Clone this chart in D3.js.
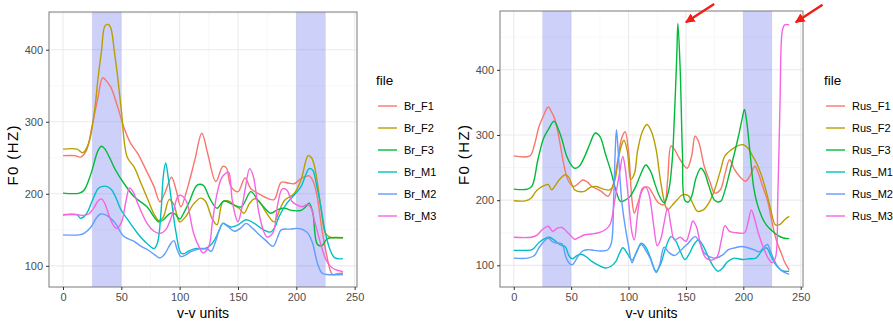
<!DOCTYPE html>
<html>
<head>
<meta charset="utf-8">
<script src="https://cdn.jsdelivr.net/npm/d3@7"></script>
<style>
  body { margin: 0; background: #fff; }
  svg { display: block; font-family: "Liberation Sans", Arial, sans-serif; }
</style>
</head>
<body>
<svg id="chart" width="893" height="325"></svg>
<script>
// series names (legend order)
const brNames = ["Br_F1", "Br_F2", "Br_F3", "Br_M1", "Br_M2", "Br_M3"];
const rusNames = ["Rus_F1", "Rus_F2", "Rus_F3", "Rus_M1", "Rus_M2", "Rus_M3"];

// [v-v unit, F0 Hz]
const brF1 = [[0,253],[10,253],[15,251],[20,260],[25,295],[30,334],[34,361],[38,355],[41,348],[47,320],[52,293],[58,270],[64,256],[70,237],[78,210],[83,189],[87,200],[93,223],[97,205],[101,182],[107,210],[113,247],[119,284],[124,256],[131,217],[137,238],[140,236],[144,210],[150,203],[156,222],[161,207],[168,200],[175,194],[181,192],[187,216],[193,215],[198,214],[204,221],[211,225],[215,215],[218,195],[222,150],[226,115],[229,94],[231,88],[235,89],[240,90]];
const brF2 = [[0,262],[12,262],[17,257],[22,270],[27,315],[30,360],[33,398],[36,433],[39,435],[41,430],[44,398],[47,360],[50,316],[55,251],[61,237],[67,214],[73,191],[78,172],[82,163],[86,168],[91,192],[95,185],[100,161],[105,168],[112,186],[118,194],[122,190],[128,165],[132,157],[137,189],[142,190],[147,184],[151,180],[155,173],[160,187],[164,193],[168,190],[173,177],[181,161],[185,175],[190,191],[198,200],[204,219],[208,245],[210,253],[213,250],[216,235],[221,182],[225,145],[229,140],[240,139]];
const brF3 = [[0,201],[14,201],[18,205],[24,228],[30,260],[33,266],[36,262],[40,250],[45,233],[52,215],[61,196],[72,182],[78,168],[82,161],[86,164],[92,173],[96,172],[100,165],[104,175],[108,188],[115,212],[120,212],[126,193],[132,180],[138,190],[147,184],[153,182],[161,203],[167,191],[173,180],[178,173],[184,178],[190,180],[196,177],[204,177],[208,182],[211,187],[214,175],[218,130],[222,128],[226,137],[230,139],[240,139]];
const brM1 = [[0,171],[12,171],[15,166],[20,172],[25,190],[30,207],[33,210],[38,210],[42,205],[46,192],[50,177],[56,163],[64,145],[72,131],[78,124],[81,132],[84,175],[86,225],[88,243],[90,225],[93,190],[97,145],[101,118],[104,117],[107,120],[113,124],[121,124],[126,128],[130,136],[134,150],[137,159],[141,156],[144,154],[150,157],[157,164],[164,159],[172,150],[178,147],[182,155],[185,168],[192,187],[198,198],[204,210],[208,226],[211,235],[214,233],[217,215],[220,191],[225,145],[229,122],[233,111],[240,110]];
const brM2 = [[0,143],[14,143],[18,145],[24,154],[28,165],[32,172],[36,171],[40,167],[45,159],[52,141],[61,134],[66,128],[73,122],[79,115],[83,111],[87,116],[92,130],[95,135],[98,122],[101,113],[105,115],[110,120],[118,124],[124,123],[127,120],[131,135],[134,150],[137,159],[141,155],[147,148],[152,152],[157,159],[162,153],[167,145],[174,135],[180,127],[184,140],[187,150],[195,151],[201,152],[206,150],[210,145],[214,131],[218,104],[222,90],[226,88],[240,88]];
const brM3 = [[0,171],[13,171],[17,170],[22,172],[27,182],[30,190],[33,193],[36,186],[39,172],[43,157],[46,152],[50,160],[54,190],[57,208],[60,203],[64,187],[72,159],[78,148],[83,145],[88,150],[94,173],[98,195],[100,198],[103,196],[106,189],[112,145],[117,125],[120,118],[125,127],[128,160],[132,200],[136,222],[140,229],[142,230],[145,192],[148,168],[150,161],[153,178],[156,205],[160,235],[163,225],[168,173],[172,148],[175,140],[180,146],[184,185],[188,207],[192,205],[196,190],[200,185],[205,182],[209,185],[212,182],[216,160],[221,130],[225,110],[229,100],[233,95],[240,92]];

const rusF1 = [[0,268],[14,268],[18,285],[22,313],[26,330],[30,343],[33,335],[36,323],[40,290],[43,260],[47,232],[52,221],[56,225],[60,231],[64,228],[68,221],[76,214],[82,206],[86,220],[90,255],[94,295],[97,305],[100,275],[103,200],[105,180],[108,195],[113,218],[117,220],[121,210],[126,196],[131,193],[134,230],[137,283],[140,278],[145,262],[151,249],[155,268],[158,298],[161,290],[166,252],[171,228],[175,211],[180,216],[184,240],[188,262],[192,248],[197,236],[202,229],[206,238],[210,252],[213,242],[217,220],[221,200],[224,175],[227,150],[230,132],[233,119],[236,105],[240,93]];
const rusF2 = [[0,199],[10,199],[15,203],[20,215],[25,221],[30,224],[33,216],[36,222],[40,232],[45,239],[48,235],[53,216],[58,213],[62,214],[67,220],[72,221],[78,217],[84,216],[88,230],[91,262],[94,285],[96,292],[99,275],[102,232],[105,240],[108,277],[112,305],[116,316],[120,305],[124,278],[128,228],[132,192],[134,185],[138,192],[142,200],[147,208],[152,207],[156,195],[160,183],[165,185],[170,196],[175,216],[180,245],[184,268],[190,278],[196,284],[200,285],[204,280],[208,268],[212,255],[216,237],[220,213],[224,185],[228,162],[232,163],[236,170],[240,175]];
const rusF3 = [[0,217],[12,217],[16,222],[21,262],[26,295],[30,308],[35,321],[39,308],[42,293],[46,268],[49,257],[53,249],[57,252],[62,268],[66,285],[71,303],[75,298],[80,270],[85,242],[89,215],[93,198],[97,200],[101,205],[106,220],[110,237],[115,254],[119,245],[123,225],[127,206],[131,196],[135,215],[138,260],[140,330],[142,420],[143,471],[145,400],[147,270],[149,200],[152,197],[155,206],[159,235],[163,249],[166,243],[170,222],[175,200],[180,198],[184,215],[188,242],[192,270],[196,300],[199,325],[201,339],[203,320],[206,270],[209,220],[212,195],[216,175],[220,162],[225,153],[230,146],[235,142],[240,141]];
const rusM1 = [[0,123],[10,123],[16,124],[22,135],[27,141],[31,143],[35,139],[40,132],[45,128],[48,115],[51,110],[55,115],[59,117],[64,112],[68,106],[74,100],[80,96],[85,99],[89,106],[92,118],[95,127],[99,118],[103,108],[107,120],[111,134],[115,128],[119,112],[124,91],[128,102],[132,125],[137,144],[141,138],[145,122],[149,109],[153,118],[157,132],[161,139],[165,130],[169,115],[174,98],[178,91],[182,96],[186,105],[192,111],[199,109],[205,110],[211,111],[216,122],[220,127],[224,115],[227,104],[232,94],[236,91],[240,91]];
const rusM2 = [[0,111],[12,111],[18,115],[22,127],[27,138],[30,142],[34,136],[38,134],[42,133],[45,115],[48,104],[51,101],[56,114],[60,122],[64,124],[70,123],[76,122],[82,124],[85,134],[87,200],[88.5,280],[89.5,308],[91,275],[94,200],[97,160],[100,130],[103,104],[106,117],[111,132],[115,123],[119,110],[124,89],[127,100],[131,128],[135,120],[140,115],[146,124],[152,134],[158,144],[162,135],[166,119],[171,113],[176,111],[182,116],[187,124],[193,127],[198,129],[204,127],[209,124],[214,121],[218,128],[221,132],[224,120],[228,104],[233,92],[240,86]];
const rusM3 = [[0,143],[15,143],[20,146],[25,155],[30,160],[34,152],[38,157],[42,158],[46,152],[50,145],[53,140],[57,143],[62,147],[68,148],[74,150],[80,155],[84,163],[88,200],[92,240],[95,267],[97,250],[100,200],[103,150],[105,139],[108,180],[112,218],[115,220],[118,208],[122,160],[125,130],[128,140],[131,165],[134,188],[137,160],[140,139],[145,143],[150,137],[153,150],[156,168],[159,160],[163,130],[167,112],[172,108],[177,113],[181,140],[184,161],[188,152],[194,150],[201,150],[204,165],[207,185],[210,170],[213,150],[218,125],[222,110],[225,104],[228,112],[230,200],[232,350],[234,460],[236,469],[240,469]];

// shaded v-v intervals
const bands = [[25, 50], [200, 225]];
// axis breaks
const xTicks = [0, 50, 100, 150, 200, 250];
const yTicks = [100, 200, 300, 400];
const xMinor = [25, 75, 125, 175, 225];
const yMinor = [150, 250, 350, 450];
// annotation arrows on the Russian panel: [fromX, fromY, toX, toY] in data units
const rusArrows = [[174.6, 501, 150, 473], [269, 500, 245.7, 473]];

const colors = ["#F8766D", "#B79F00", "#00BA38", "#00BFC4", "#619CFF", "#F564E3"];

const svg = d3.select("#chart");

svg.append("defs").append("marker")
  .attr("id", "head")
  .attr("viewBox", "0 0 10 10")
  .attr("refX", 9).attr("refY", 5)
  .attr("markerWidth", 4).attr("markerHeight", 4)
  .attr("orient", "auto")
  .append("path")
  .attr("d", "M0,0L10,5L0,10Z")
  .attr("fill", "#f01e14");

function drawPanel(box, series, names, legendX, arrows) {
  const all = series.flat();
  const xs = all.map(d => d[0]).concat(bands.flat());
  const ys = all.map(d => d[1]);
  const xe = d3.extent(xs), ye = d3.extent(ys);
  const xp = (xe[1] - xe[0]) * 0.05, yp = (ye[1] - ye[0]) * 0.05;

  const x = d3.scaleLinear().domain([xe[0] - xp, xe[1] + xp]).range([box.left, box.right]);
  const y = d3.scaleLinear().domain([ye[0] - yp, ye[1] + yp]).range([box.bottom, box.top]);

  const g = svg.append("g");

  g.append("rect")
    .attr("x", box.left).attr("y", box.top)
    .attr("width", box.right - box.left).attr("height", box.bottom - box.top)
    .attr("fill", "#fff");

  // grid
  g.selectAll(".vminor").data(xMinor).enter().append("line")
    .attr("x1", d => x(d)).attr("x2", d => x(d))
    .attr("y1", box.top).attr("y2", box.bottom)
    .attr("stroke", "#f3f3f3").attr("stroke-width", 0.6);
  g.selectAll(".hminor").data(yMinor).enter().append("line")
    .attr("y1", d => y(d)).attr("y2", d => y(d))
    .attr("x1", box.left).attr("x2", box.right)
    .attr("stroke", "#f3f3f3").attr("stroke-width", 0.6);
  g.selectAll(".vmajor").data(xTicks).enter().append("line")
    .attr("x1", d => x(d)).attr("x2", d => x(d))
    .attr("y1", box.top).attr("y2", box.bottom)
    .attr("stroke", "#ebebeb").attr("stroke-width", 1.1);
  g.selectAll(".hmajor").data(yTicks).enter().append("line")
    .attr("y1", d => y(d)).attr("y2", d => y(d))
    .attr("x1", box.left).attr("x2", box.right)
    .attr("stroke", "#ebebeb").attr("stroke-width", 1.1);

  // shaded bands
  g.selectAll(".band").data(bands).enter().append("rect")
    .attr("x", d => x(d[0])).attr("width", d => x(d[1]) - x(d[0]))
    .attr("y", box.top).attr("height", box.bottom - box.top)
    .attr("fill", "#2832e6").attr("fill-opacity", 0.23);

  const line = d3.line()
    .x(d => x(d[0])).y(d => y(d[1]))
    .curve(d3.curveCatmullRom.alpha(0.5));

  g.selectAll(".series").data(series).enter().append("path")
    .attr("d", d => line(d))
    .attr("fill", "none")
    .attr("stroke", (d, i) => colors[i])
    .attr("stroke-width", 1.4);

  g.append("rect")
    .attr("x", box.left).attr("y", box.top)
    .attr("width", box.right - box.left).attr("height", box.bottom - box.top)
    .attr("fill", "none").attr("stroke", "#7a7a7a").attr("stroke-width", 1);

  // axes
  const xa = g.append("g").attr("transform", `translate(0,${box.bottom})`)
    .call(d3.axisBottom(x).tickValues(xTicks).tickSize(3).tickPadding(3));
  const ya = g.append("g").attr("transform", `translate(${box.left},0)`)
    .call(d3.axisLeft(y).tickValues(yTicks).tickSize(3).tickPadding(3));
  [xa, ya].forEach(a => {
    a.select(".domain").remove();
    a.selectAll("line").attr("stroke", "#333");
    a.selectAll("text").attr("fill", "#4d4d4d").style("font-size", "11px")
      .style("font-family", "'Liberation Sans', Arial, sans-serif");
  });

  g.append("text")
    .attr("x", (box.left + box.right) / 2).attr("y", 318)
    .attr("text-anchor", "middle").style("font-size", "14px").attr("fill", "#000")
    .text("v-v units");
  g.append("text")
    .attr("transform", `translate(${box.left - 31},${(box.top + box.bottom) / 2 + 6}) rotate(-90)`)
    .attr("text-anchor", "middle").style("font-size", "15px").attr("fill", "#000")
    .attr("textLength", 60).attr("lengthAdjust", "spacing")
    .text("F0 (HZ)");

  // legend
  const lg = g.append("g");
  lg.append("text").attr("x", legendX - 2).attr("y", 85)
    .style("font-size", "13.5px").attr("fill", "#000").text("file");
  const rows = lg.selectAll(".row").data(names).enter().append("g")
    .attr("transform", (d, i) => `translate(${legendX},${106 + i * 22})`);
  rows.append("line").attr("x1", 0).attr("x2", 19)
    .attr("stroke", (d, i) => colors[i]).attr("stroke-width", 1.4);
  rows.append("text").attr("x", 26).attr("dy", "0.35em")
    .style("font-size", "11px").attr("fill", "#000").text(d => d);

  // arrows
  g.selectAll(".arrow").data(arrows).enter().append("line")
    .attr("x1", d => x(d[0])).attr("y1", d => y(d[1]))
    .attr("x2", d => x(d[2])).attr("y2", d => y(d[3]))
    .attr("stroke", "#f01e14").attr("stroke-width", 2.4)
    .attr("marker-end", "url(#head)");
}

drawPanel({ left: 49, right: 357, top: 12, bottom: 287 },
  [brF1, brF2, brF3, brM1, brM2, brM3], brNames, 378, []);
drawPanel({ left: 500, right: 803, top: 11, bottom: 287 },
  [rusF1, rusF2, rusF3, rusM1, rusM2, rusM3], rusNames, 826, rusArrows);
</script>
</body>
</html>
